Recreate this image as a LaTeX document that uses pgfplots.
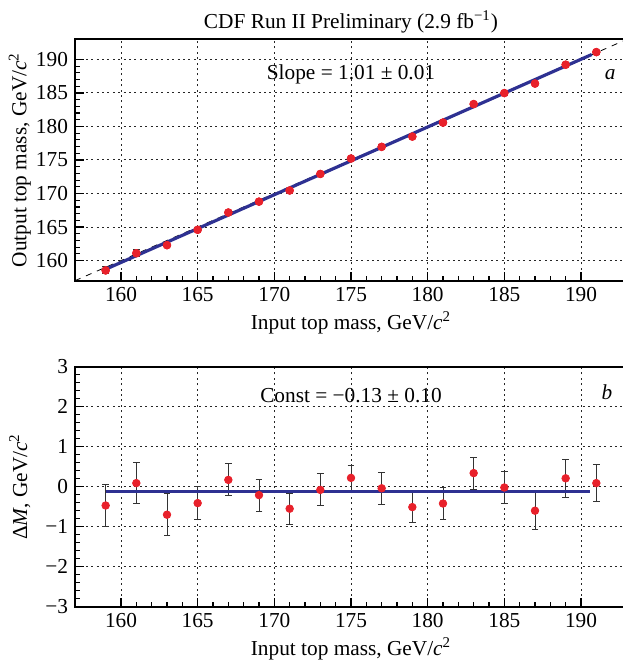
\documentclass[border=0pt]{standalone}
\usepackage{fontspec}
\setmainfont{Liberation Serif}
\usepackage{pgfplots}
\pgfplotsset{compat=1.18}

\definecolor{ptred}{HTML}{E8212B}
\definecolor{fitblue}{HTML}{2E3192}

\pgfplotsset{
  cdfpanel/.style={
    scale only axis, width=276bp,
    xmin=157, xmax=193,
    xtick={160,165,...,190}, minor x tick num=4, minor y tick num=4,
    tick align=inside, tick pos=left,
    major tick length=4.5bp, minor tick length=2.5bp,
    grid=major, grid style={black!85, dash pattern=on 1bp off 1.7bp, line width=0.5pt},
    axis line style={black, line width=0.9pt},
    tick style={black, line width=0.6pt},
    /pgf/number format/assume math mode=true,
    /pgf/number format/1000 sep={},
    xlabel={Input top mass, GeV/\textit{c}\textsuperscript{2}},
    xlabel style={yshift=2pt},
    every axis y label/.style={at={(axis description cs:-0.1,0.5)}, rotate=90, anchor=center},
    every axis title/.style={at={(axis description cs:0.5,1)}, anchor=base, yshift=5.3bp},
    clip=true,
  },
  ptmarks/.style={only marks, mark=*, mark size=1.9pt, color=ptred,
         error bars/.cd, y dir=both, y explicit,
         error bar style={black!80, line width=0.5pt},
         error mark options={black!80, rotate=90, mark size=1.7bp, line width=0.5pt}},
}

\begin{document}
\begin{tikzpicture}[font=\fontsize{10.7}{12.8}\selectfont]
% upper panel: output vs input mass
\begin{axis}[cdfpanel,
  height=120.7bp, at={(37.5bp,191.15bp)}, anchor=south west,
  ymin=157, ymax=193, ytick={160,165,...,190},
  ylabel={Output top mass, GeV/\textit{c}\textsuperscript{2}},
  title={CDF Run II Preliminary (2.9 fb\textsuperscript{−1})},
]
\addplot[black, dashed, line width=0.4pt] coordinates {(157,157) (193,193)};
\addplot[ptmarks] coordinates {
  (159,158.53) +- (0,0.53)
  (161,161.09) +- (0,0.52)
  (163,162.30) +- (0,0.40)
  (165,164.59) +- (0,0.30)
  (167,167.17) +- (0,0.30)
  (169,168.79) +- (0,0.30)
  (171,170.45) +- (0,0.30)
  (173,172.92) +- (0,0.30)
  (175,175.22) +- (0,0.30)
  (177,176.96) +- (0,0.30)
  (179,178.49) +- (0,0.30)
  (181,180.58) +- (0,0.30)
  (183,183.34) +- (0,0.30)
  (185,184.98) +- (0,0.30)
  (187,186.40) +- (0,0.30)
  (189,189.21) +- (0,0.30)
  (191,191.09) +- (0,0.30)};
\addplot[fitblue, line width=1.6pt] coordinates {(159,158.71) (190.7,190.73)};
\addplot[only marks, mark=*, mark size=1.9pt, color=ptred] coordinates {
  (159,158.53) (161,161.09) (163,162.30) (165,164.59) (167,167.17)
  (169,168.79) (171,170.45) (173,172.92) (175,175.22) (177,176.96)
  (179,178.49) (181,180.58) (183,183.34) (185,184.98) (187,186.40)
  (189,189.21) (191,191.09)};
\node at (axis cs:175,187.7) {Slope = 1.01 ± 0.01};
\node at (axis cs:191.9,187.7) {\textit{a}};
\end{axis}

% lower panel: residuals
\begin{axis}[cdfpanel,
  height=120bp, at={(37.5bp,28.15bp)}, anchor=south west,
  ymin=-3, ymax=3, ytick={-3,-2,...,3},
  yticklabels={−3,−2,−1,0,1,2,3},
  ylabel={Δ\textit{M}, GeV/\textit{c}\textsuperscript{2}},
]
\addplot[ptmarks] coordinates {
  (159,-0.47) +- (0,0.53)
  (161,0.09)  +- (0,0.52)
  (163,-0.70) +- (0,0.52)
  (165,-0.41) +- (0,0.41)
  (167,0.17)  +- (0,0.40)
  (169,-0.21) +- (0,0.40)
  (171,-0.55) +- (0,0.39)
  (173,-0.08) +- (0,0.40)
  (175,0.22)  +- (0,0.31)
  (177,-0.04) +- (0,0.40)
  (179,-0.51) +- (0,0.39)
  (181,-0.42) +- (0,0.40)
  (183,0.34)  +- (0,0.40)
  (185,-0.02) +- (0,0.39)
  (187,-0.60) +- (0,0.47)
  (189,0.21)  +- (0,0.48)
  (191,0.09)  +- (0,0.47)};
\addplot[fitblue, line width=1.6pt] coordinates {(159,-0.13) (190.6,-0.13)};
\node at (axis cs:175,2.29) {Const = −0.13 ± 0.10};
\node at (axis cs:191.7,2.37) {\textit{b}};
\end{axis}

\pgfresetboundingbox
\path[use as bounding box] (0,0) rectangle (311.5bp,331.5bp);
\end{tikzpicture}
\end{document}
